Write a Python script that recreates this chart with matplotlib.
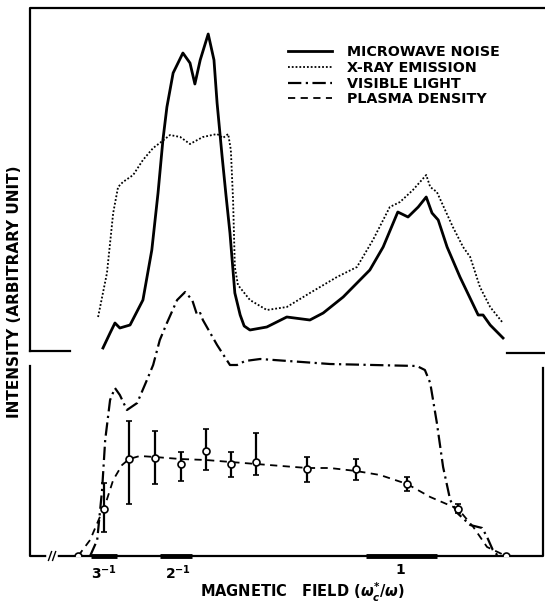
import numpy as np
import matplotlib
matplotlib.use("Agg")
import matplotlib.pyplot as plt
from matplotlib.lines import Line2D

plt.rcParams['font.family'] = ['DejaVu Sans']
plt.rcParams['font.weight'] = 'bold'

# magnetic field (omega_c*/omega) and intensity (arbitrary units)
mw_b = [0.331, 0.347, 0.358, 0.369, 0.392, 0.421, 0.441, 0.455, 0.466, 0.475, 0.489, 0.511,
        0.527, 0.538, 0.550, 0.568, 0.581, 0.588, 0.599, 0.608, 0.617, 0.628, 0.640, 0.649,
        0.662, 0.700, 0.745, 0.797, 0.827, 0.872, 0.932, 0.962, 0.995, 1.018, 1.041, 1.059,
        1.072, 1.086, 1.106, 1.135, 1.176, 1.187, 1.203, 1.232]
mw_i = [208, 223, 233, 228, 231, 256, 306, 363, 416, 449, 483, 503,
        493, 472, 496, 522, 496, 453, 401, 361, 323, 263, 241, 230,
        226, 229, 239, 236, 243, 259, 286, 309, 344, 339, 349, 359,
        343, 336, 309, 279, 241, 241, 231, 218]

xray_b = [0.320, 0.340, 0.354, 0.365, 0.376, 0.399, 0.421, 0.444, 0.459, 0.482, 0.505, 0.527,
          0.556, 0.588, 0.601, 0.613, 0.619, 0.624, 0.628, 0.635, 0.662, 0.700, 0.745, 0.797,
          0.858, 0.903, 0.939, 0.977, 1.000, 1.029, 1.059, 1.068, 1.083, 1.119, 1.142, 1.158,
          1.180, 1.203, 1.230]
xray_i = [239, 283, 343, 369, 374, 381, 396, 408, 413, 421, 419, 412,
          419, 422, 418, 422, 406, 356, 289, 271, 256, 246, 249, 263,
          279, 289, 316, 349, 354, 366, 381, 369, 364, 329, 309, 299,
          269, 249, 234]

vis_b = [0.302, 0.318, 0.329, 0.336, 0.347, 0.358, 0.369, 0.385, 0.408, 0.430, 0.444, 0.459,
         0.475, 0.498, 0.516, 0.532, 0.543, 0.550, 0.556, 0.588, 0.617, 0.633, 0.651, 0.685,
         0.842, 1.038, 1.056, 1.068, 1.083, 1.097, 1.113, 1.129, 1.158, 1.185, 1.196, 1.209,
         1.221]
vis_i = [0, 16, 66, 116, 156, 168, 161, 146, 153, 176, 191, 216,
         233, 256, 264, 256, 241, 243, 236, 211, 191, 191, 195, 197,
         192, 190, 186, 173, 133, 89, 56, 43, 31, 28, 19, 6,
         0]

# plasma density: smooth dashed curve and measured points with error bars
dens_b = [0.275, 0.302, 0.324, 0.333, 0.354, 0.374, 0.390, 0.414, 0.448, 0.505, 0.563, 0.619,
          0.676, 0.791, 0.842, 0.901, 0.955, 1.016, 1.068, 1.131, 1.165, 1.196, 1.239]
dens_i = [0, 16, 39, 47, 76, 91, 97, 100, 99, 97, 96, 94,
          92, 88, 88, 85, 81, 72, 59, 47, 29, 9, 0]

pt_b = [0.275, 0.333, 0.390, 0.448, 0.507, 0.563, 0.619, 0.676, 0.791, 0.901, 1.016, 1.131, 1.239]
pt_i = [0, 47, 97, 98, 92, 105, 92, 94, 87, 87, 72, 47, 0]
pt_lo = [0, 23, 45, 26, 17, 19, 13, 13, 13, 11, 7, 4, 0]
pt_hi = [0, 26, 38, 27, 12, 22, 12, 29, 12, 10, 7, 5, 0]

# resonance bands marked on the field axis
bands = [(0.304, 0.363), (0.459, 0.532), (0.923, 1.083)]
tick_pos = [1 / 3, 1 / 2, 1]
tick_lab = ['3$^{-1}$', '2$^{-1}$', '1']

fig = plt.figure(figsize=(5.45, 6.05), dpi=100)
ax = fig.add_axes([30 / 545, 49 / 605, 513 / 545, 548 / 605])
ax.set_xlim(1 / 6, 1.322)
ax.set_ylim(0, 548)
for s in ax.spines.values():
    s.set_visible(False)

mw, = ax.plot(mw_b, mw_i, color='black', lw=2.0, solid_joinstyle='round')
xr, = ax.plot(xray_b, xray_i, color='black', lw=1.3, linestyle=(0, (1, 1.1)))
vl, = ax.plot(vis_b, vis_i, color='black', lw=1.6, linestyle=(0, (6, 2, 1, 2)))
pd, = ax.plot(dens_b, dens_i, color='black', lw=1.3, linestyle=(0, (4, 3)))
ax.errorbar(pt_b, pt_i, yerr=[pt_lo, pt_hi], fmt='o', color='black', mfc='white',
            mec='black', ms=5, mew=1.2, elinewidth=1.6, capsize=2.5, capthick=1.6, zorder=5)

for lo, hi in bands:
    ax.plot([lo, hi], [0, 0], color='black', lw=3.5, solid_capstyle='butt', clip_on=False)

# panel frames
T = ax.transAxes
kw = dict(color='black', lw=1.6, transform=T, clip_on=False, solid_capstyle='projecting')
ax.plot([0, 0, 1.004], [0.374, 1, 1], **kw)
ax.plot([0, 0.078], [0.374, 0.374], **kw)
ax.plot([0.930, 1.004], [0.370, 0.370], **kw)
ax.plot([0, 0, 1, 1], [0.347, 0, 0, 0.343], **kw)
# axis break
ax.plot([0.037, 0.049], [0, 0], color='white', lw=4, transform=T, clip_on=False)
ax.plot([0.036, 0.042], [-0.008, 0.008], color='black', lw=1, transform=T, clip_on=False)
ax.plot([0.044, 0.050], [-0.008, 0.008], color='black', lw=1, transform=T, clip_on=False)

ax.set_yticks([])
ax.set_xticks(tick_pos)
ax.set_xticklabels(tick_lab, fontsize=10, fontweight='bold')
ax.tick_params(axis='x', length=0, pad=5)

fig.text(302 / 545, 1 - 592 / 605, r'MAGNETIC   FIELD ($\omega_c^{*}/\omega$)',
         ha='center', va='center', fontsize=10.5, fontweight='bold')
fig.text(15 / 545, 1 - 292 / 605, 'INTENSITY (ARBITRARY UNIT)', rotation=90,
         ha='center', va='center', fontsize=11, fontweight='bold')

handles = [Line2D([], [], color='black', lw=2.0),
           Line2D([], [], color='black', lw=1.3, linestyle=(0, (1, 1.1))),
           Line2D([], [], color='black', lw=1.6, linestyle=(0, (6, 2, 1, 2))),
           Line2D([], [], color='black', lw=1.3, linestyle=(0, (4, 3)))]
labels = ['MICROWAVE NOISE', 'X-RAY EMISSION', 'VISIBLE LIGHT', 'PLASMA DENSITY']
ax.legend(handles, labels, loc='upper left', bbox_to_anchor=(0.503, 0.932), frameon=False,
          borderpad=0, borderaxespad=0, handlelength=3.1, handletextpad=1.0,
          labelspacing=0.12, prop={'size': 10.3, 'weight': 'bold'})

fig.savefig('out.png', dpi=100)
